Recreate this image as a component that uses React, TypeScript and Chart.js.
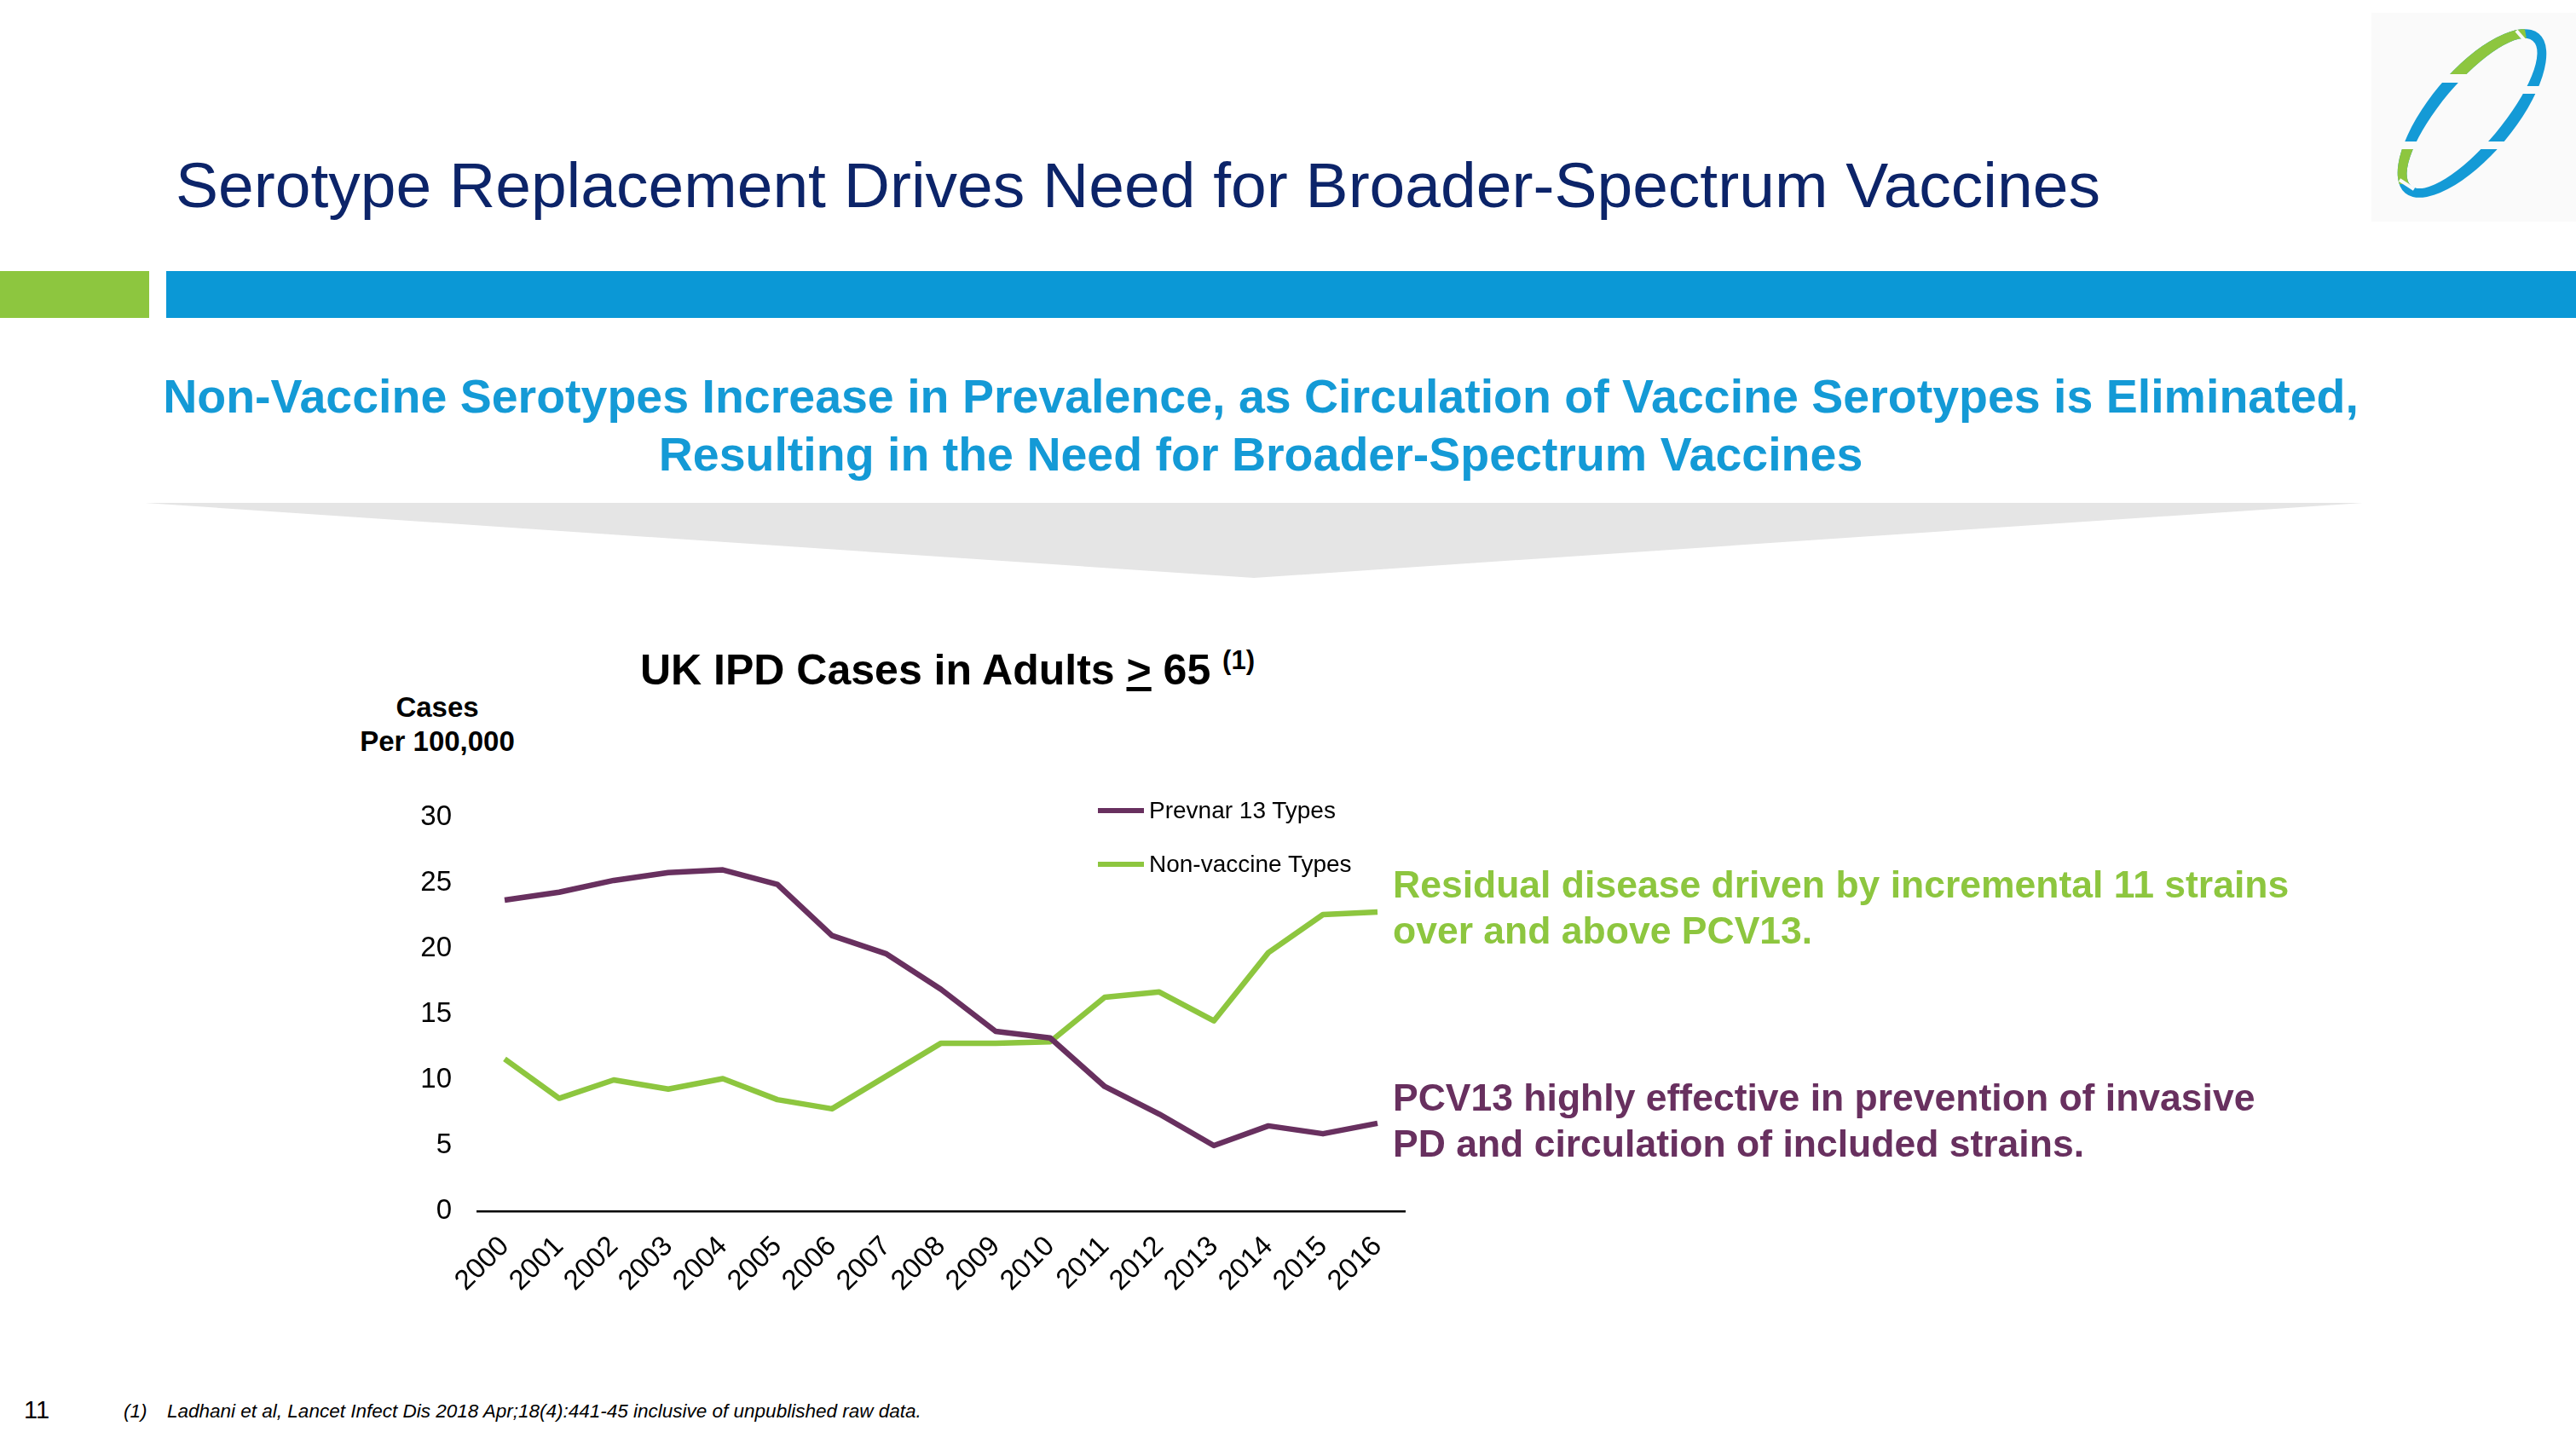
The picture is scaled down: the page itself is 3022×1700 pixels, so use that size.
import React, { useEffect, useRef } from "react";
import { Chart, registerables } from "chart.js";

Chart.register(...registerables);

// ---------- data ----------
const years = ["2000", "2001", "2002", "2003", "2004", "2005", "2006", "2007", "2008", "2009", "2010", "2011", "2012", "2013", "2014", "2015", "2016"];
const prevnar13Types = [23.7, 24.3, 25.2, 25.8, 26.0, 24.9, 21.0, 19.6, 16.9, 13.7, 13.2, 9.5, 7.4, 5.0, 6.5, 5.9, 6.7];
const nonVaccineTypes = [11.6, 8.6, 10.0, 9.3, 10.1, 8.5, 7.8, 10.3, 12.8, 12.8, 12.9, 16.3, 16.7, 14.5, 19.7, 22.6, 22.8];
const seriesNames = ["Prevnar 13 Types", "Non-vaccine Types"];
const yMin = 0;
const yMax = 30;
const yStep = 5;

// ---------- style ----------
const FONT = "'Liberation Sans', Arial, Helvetica, sans-serif";
const PURPLE = "#68305f";
const GREEN = "#8dc63f";
const BLUE = "#149ad6";
const NAVY = "#0c2469";

type TProps = {
  x: number;
  base: number;
  size: number;
  color?: string;
  bold?: boolean;
  italic?: boolean;
  align?: "left" | "center";
  children: React.ReactNode;
};

function T({ x, base, size, color = "#000", bold = false, italic = false, align = "left", children }: TProps) {
  const top = base - 0.8465 * size;
  const style: React.CSSProperties = {
    position: "absolute",
    top,
    fontFamily: FONT,
    fontSize: size,
    lineHeight: `${size}px`,
    color,
    fontWeight: bold ? 700 : 400,
    fontStyle: italic ? "italic" : "normal",
    whiteSpace: "nowrap",
  };
  if (align === "center") {
    style.left = x - 1500;
    style.width = 3000;
    style.textAlign = "center";
  } else {
    style.left = x;
  }
  return <div style={style}>{children}</div>;
}

function LineChart() {
  const ref = useRef<HTMLCanvasElement | null>(null);
  useEffect(() => {
    if (!ref.current) return;
    const chart = new Chart(ref.current, {
      type: "line",
      data: {
        labels: years,
        datasets: [
          {
            label: seriesNames[0],
            data: prevnar13Types,
            borderColor: PURPLE,
            backgroundColor: PURPLE,
            borderWidth: 6.5,
            pointRadius: 0,
            tension: 0,
            borderJoinStyle: "round",
          },
          {
            label: seriesNames[1],
            data: nonVaccineTypes,
            borderColor: GREEN,
            backgroundColor: GREEN,
            borderWidth: 6.5,
            pointRadius: 0,
            tension: 0,
            borderJoinStyle: "round",
          },
        ],
      },
      options: {
        animation: false,
        responsive: false,
        maintainAspectRatio: false,
        layout: { padding: { top: 59, right: 52, left: 0, bottom: 0 } },
        plugins: { legend: { display: false }, tooltip: { enabled: false }, title: { display: false } },
        scales: {
          x: {
            type: "category",
            offset: true,
            grid: { display: false, drawTicks: false },
            border: { display: true, color: "#000", width: 2.5 },
            ticks: {
              autoSkip: false,
              maxRotation: 45,
              minRotation: 45,
              padding: 22,
              color: "#000",
              font: { family: FONT, size: 33 },
            },
            afterFit: (scale: any) => {
              scale.height = 99;
            },
          },
          y: {
            min: yMin,
            max: yMax,
            grid: { display: false, drawTicks: false },
            border: { display: false },
            ticks: {
              stepSize: yStep,
              padding: 30,
              color: "#000",
              font: { family: FONT, size: 33 },
            },
            afterFit: (scale: any) => {
              scale.width = 180;
            },
          },
        },
      },
    });
    return () => chart.destroy();
  }, []);
  return (
    <div style={{ position: "absolute", left: 380, top: 900, width: 1320, height: 620 }}>
      <canvas ref={ref} width={1320} height={620} style={{ width: 1320, height: 620 }} />
    </div>
  );
}

function Logo() {
  const cx = 2900;
  const cy = 133;
  const rot = -50;
  const BG = "#fafafa";
  const ring = `M ${cx - 122} ${cy} a 122 50 0 1 0 244 0 a 122 50 0 1 0 -244 0 Z M ${cx - 111} ${cy} a 111 36 0 1 0 222 0 a 111 36 0 1 0 -222 0 Z`;
  return (
    <svg width={3022} height={1700} style={{ position: "absolute", left: 0, top: 0 }}>
      <rect x={2782} y={15} width={240} height={245} fill={BG} />
      <defs>
        <clipPath id="g1">
          <polygon points="2790,96 2790,0 2956,0 2964,46 2935,96" />
        </clipPath>
        <clipPath id="g2">
          <polygon points="2780,175 2860,175 2860,203 2826,216 2780,216" />
        </clipPath>
      </defs>
      <g transform={`rotate(${rot} ${cx} ${cy})`}>
        <path d={ring} fill={BLUE} fillRule="evenodd" />
      </g>
      <g clipPath="url(#g1)">
        <g transform={`rotate(${rot} ${cx} ${cy})`}>
          <path d={ring} fill={GREEN} fillRule="evenodd" />
        </g>
      </g>
      <g clipPath="url(#g2)">
        <g transform={`rotate(${rot} ${cx} ${cy})`}>
          <path d={ring} fill={GREEN} fillRule="evenodd" />
        </g>
      </g>
      <rect x={2835} y={87} width={70} height={10} fill={BG} />
      <rect x={2935} y={101} width={70} height={9} fill={BG} />
      <rect x={2800} y={166} width={200} height={9} fill={BG} />
      <line x1={2952} y1={36} x2={2966} y2={52} stroke={BG} strokeWidth={4} />
      <line x1={2815} y1={211} x2={2832} y2={222} stroke={BG} strokeWidth={4} />
      {/* header bars */}
      <rect x={0} y={318} width={175} height={55} fill={GREEN} />
      <rect x={195} y={318} width={2827} height={55} fill="#0b98d6" />
      {/* grey chevron */}
      <polygon points="170,590 2772,590 1471,678" fill="#e5e5e5" />
    </svg>
  );
}

export default function App() {
  useEffect(() => {
    document.body.style.margin = "0";
  }, []);
  return (
    <div
      style={{
        position: "fixed",
        left: 0,
        top: 0,
        width: 3022,
        height: 1700,
        background: "#fff",
        overflow: "hidden",
      }}
    >
      <Logo />
      <T x={206} base={243} size={75} color={NAVY}>
        Serotype Replacement Drives Need for Broader-Spectrum Vaccines
      </T>
      <T x={1479} base={485} size={55.5} color={BLUE} bold align="center">
        Non-Vaccine Serotypes Increase in Prevalence, as Circulation of Vaccine Serotypes is Eliminated,
      </T>
      <T x={1479} base={553} size={55.5} color={BLUE} bold align="center">
        Resulting in the Need for Broader-Spectrum Vaccines
      </T>

      <T x={751} base={803} size={50} bold>
        UK IPD Cases in Adults <span style={{ textDecoration: "underline" }}>&gt;</span> 65{" "}
        <span style={{ fontSize: 31, position: "relative", top: -18 }}>(1)</span>
      </T>
      <T x={513} base={841} size={33} bold align="center">
        Cases
      </T>
      <T x={513} base={881} size={33} bold align="center">
        Per 100,000
      </T>

      <LineChart />

      {/* legend */}
      <div style={{ position: "absolute", left: 1288, top: 948, width: 54, height: 6, background: PURPLE }} />
      <T x={1348} base={961} size={28}>
        {seriesNames[0]}
      </T>
      <div style={{ position: "absolute", left: 1288, top: 1011, width: 54, height: 6, background: GREEN }} />
      <T x={1348} base={1024} size={28}>
        {seriesNames[1]}
      </T>

      {/* annotations */}
      <T x={1634} base={1054} size={44.5} bold color={GREEN}>
        Residual disease driven by incremental 11 strains
      </T>
      <T x={1634} base={1108} size={44.5} bold color={GREEN}>
        over and above PCV13.
      </T>
      <T x={1634} base={1304} size={44.5} bold color={PURPLE}>
        PCV13 highly effective in prevention of invasive
      </T>
      <T x={1634} base={1358} size={44.5} bold color={PURPLE}>
        PD and circulation of included strains.
      </T>

      {/* footer */}
      <T x={28} base={1665} size={29}>
        11
      </T>
      <T x={145} base={1664} size={22.5} italic>
        (1)
      </T>
      <T x={196} base={1664} size={22.5} italic>
        Ladhani et al, Lancet Infect Dis 2018 Apr;18(4):441-45 inclusive of unpublished raw data.
      </T>
    </div>
  );
}
